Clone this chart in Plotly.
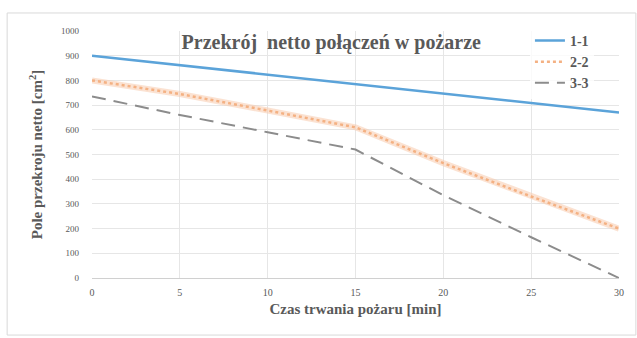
import plotly.graph_objects as go

czas = [0, 5, 10, 15, 20, 25, 30]
s11 = [900, 862, 823, 785, 747, 708, 670]
s22 = [800, 745, 678, 610, 465, 330, 200]
s33 = [735, 660, 590, 520, 335, 165, 0]

font_family = "Liberation Serif"
txt_col = "#595959"

fig = go.Figure()
fig.add_trace(go.Scatter(x=czas, y=s11, mode="lines", name="<b>1-1</b>",
                         line=dict(color="#5BA3D9", width=2.5)))
fig.add_trace(go.Scatter(x=czas, y=s22, mode="lines", name="band", showlegend=False,
                         hoverinfo="skip",
                         line=dict(color="rgba(248,203,173,0.55)", width=6)))
fig.add_trace(go.Scatter(x=czas, y=s22, mode="lines", name="<b>2-2</b>",
                         line=dict(color="#F4B183", width=2.5, dash="dot")))
fig.add_trace(go.Scatter(x=czas, y=s33, mode="lines", name="<b>3-3</b>",
                         line=dict(color="#8C8C8C", width=2, dash="14px,8px")))

fig.update_layout(
    width=637, height=338,
    margin=dict(l=92, r=18, t=31, b=60),
    paper_bgcolor="white", plot_bgcolor="white",
    font=dict(family=font_family, color=txt_col, size=10),
    title=dict(text="<b>Przekrój  netto połączeń w pożarze</b>",
               x=0.52, xanchor="center", y=0.875, yanchor="middle",
               font=dict(size=20, color="#595959", family=font_family)),
    xaxis=dict(range=[0, 30], tickvals=[0, 5, 10, 15, 20, 25, 30],
               showgrid=True, gridcolor="#E6E6E6", gridwidth=1,
               showline=True, linecolor="#D0D0D0", linewidth=1,
               zeroline=False, ticks="", tickfont=dict(size=10),
               ticklabelstandoff=5,
               title=dict(text="<b>Czas trwania pożaru [min]</b>", font=dict(size=15), standoff=6)),
    yaxis=dict(range=[0, 1000], dtick=100,
               showgrid=True, gridcolor="#E6E6E6", gridwidth=1,
               zeroline=False, ticks="", tickfont=dict(size=9),
               ticklabelstandoff=12,
               title=dict(text="<b>Pole przekroju netto [cm<sup>2</sup>]</b>", font=dict(size=15), standoff=14)),
    legend=dict(x=0.831, y=1.025, xanchor="left", yanchor="top",
                bgcolor="rgba(255,255,255,0.8)",
                font=dict(size=14, family=font_family, color=txt_col),
                tracegroupgap=4),
    shapes=[dict(type="rect", xref="paper", yref="paper",
                 x0=-0.161, x1=1.032, y0=-0.231, y1=1.073,
                 line=dict(color="#D9D9D9", width=1), layer="below")],
)

fig.write_html("out.html", config={"displayModeBar": False},
               post_script="document.body.style.margin='0';document.body.style.overflow='hidden';")
